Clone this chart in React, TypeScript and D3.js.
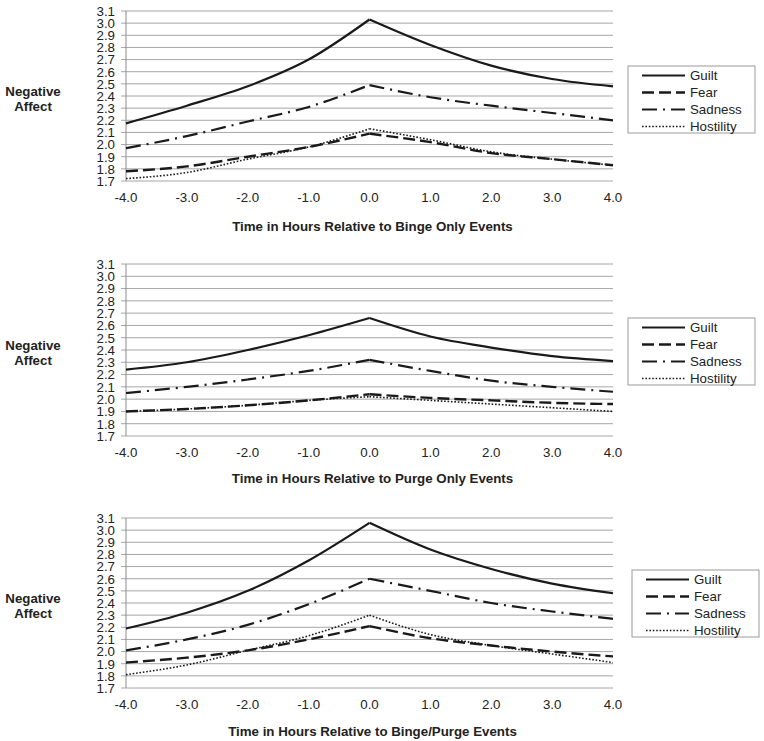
import React from "react";
import * as d3 from "d3";

const hours = [-4, -3, -2, -1, 0, 1, 2, 3, 4];
const yTicks = [1.7, 1.8, 1.9, 2.0, 2.1, 2.2, 2.3, 2.4, 2.5, 2.6, 2.7, 2.8, 2.9, 3.0, 3.1];
const seriesNames = ["Guilt", "Fear", "Sadness", "Hostility"];
const panelTitles = [
  "Time in Hours Relative to Binge Only Events",
  "Time in Hours Relative to Purge Only Events",
  "Time in Hours Relative to Binge/Purge Events",
];

// Binge only
const guilt1 = [2.175, 2.32, 2.48, 2.7, 3.03, 2.82, 2.65, 2.54, 2.48];
const fear1 = [1.78, 1.82, 1.9, 1.98, 2.09, 2.02, 1.93, 1.88, 1.83];
const sadness1 = [1.97, 2.07, 2.19, 2.31, 2.49, 2.39, 2.32, 2.26, 2.2];
const hostility1 = [1.72, 1.77, 1.88, 1.98, 2.13, 2.04, 1.94, 1.88, 1.83];
// Purge only
const guilt2 = [2.24, 2.3, 2.4, 2.52, 2.66, 2.51, 2.42, 2.35, 2.31];
const fear2 = [1.9, 1.92, 1.95, 1.99, 2.04, 2.01, 1.99, 1.97, 1.96];
const sadness2 = [2.05, 2.1, 2.16, 2.23, 2.32, 2.23, 2.15, 2.1, 2.06];
const hostility2 = [1.9, 1.92, 1.95, 1.99, 2.02, 1.99, 1.96, 1.93, 1.9];
// Binge/purge
const guilt3 = [2.19, 2.32, 2.5, 2.75, 3.06, 2.84, 2.68, 2.56, 2.48];
const fear3 = [1.91, 1.95, 2.01, 2.1, 2.21, 2.11, 2.05, 2.0, 1.96];
const sadness3 = [2.01, 2.1, 2.22, 2.39, 2.6, 2.5, 2.4, 2.33, 2.27];
const hostility3 = [1.81, 1.89, 2.01, 2.13, 2.3, 2.14, 2.05, 1.98, 1.91];

const panelSeries = [
  [guilt1, fear1, sadness1, hostility1],
  [guilt2, fear2, sadness2, hostility2],
  [guilt3, fear3, sadness3, hostility3],
];

// layout
const W = 764;
const H = 741;
const FONT = "'Liberation Sans', Arial, sans-serif";
const FS = 13.3;
const plotTops = [11, 264, 518];
const plotBottoms = [181, 436, 688];
const titleBaselines = [231, 483, 736];
const legendTops = [66, 318, 570];
const legendLefts = [628, 628, 632];
const X0 = 126;
const X1 = 613;

const lineStyles = [
  { dash: "", width: 2.2 },
  { dash: "12,5", width: 2.4 },
  { dash: "15,6,2,6", width: 2.2 },
  { dash: "1.6,1.8", width: 1.6 },
];

function Panel({ idx }: { idx: number }) {
  const top = plotTops[idx];
  const bottom = plotBottoms[idx];
  const x = d3.scaleLinear().domain([-4, 4]).range([X0, X1]);
  const y = d3.scaleLinear().domain([1.7, 3.1]).range([bottom, top]);
  const line = d3
    .line<[number, number]>()
    .x((d) => x(d[0]))
    .y((d) => y(d[1]))
    .curve(d3.curveMonotoneX);
  const series = panelSeries[idx];
  const lx = legendLefts[idx];
  const ly = legendTops[idx];
  return (
    <g>
      {yTicks.map((t) => (
        <g key={t}>
          <line x1={X0 - 5} x2={X1} y1={y(t)} y2={y(t)} stroke="#a6a6a6" strokeWidth={1} />
          <text
            x={X0 - 11}
            y={y(t)}
            dy="0.36em"
            textAnchor="end"
            fontSize={FS}
            fontFamily={FONT}
            fill="#222"
          >
            {t.toFixed(1)}
          </text>
        </g>
      ))}
      <line x1={X0} x2={X0} y1={top} y2={bottom} stroke="#8c8c8c" strokeWidth={1} />
      {hours.map((h) => (
        <text
          key={h}
          x={x(h)}
          y={bottom + 20.5}
          textAnchor="middle"
          fontSize={FS}
          fontFamily={FONT}
          fill="#222"
        >
          {h.toFixed(1)}
        </text>
      ))}
      <text
        x={(X0 + X1) / 2 + 3}
        y={titleBaselines[idx]}
        textAnchor="middle"
        fontSize={FS}
        fontWeight="bold"
        fontFamily={FONT}
        fill="#222"
      >
        {panelTitles[idx]}
      </text>
      <text x={33} y={y(2.3) - 12.5} textAnchor="middle" fontSize={FS} fontWeight="bold" fontFamily={FONT} fill="#222">
        Negative
      </text>
      <text x={33} y={y(2.3) + 3} textAnchor="middle" fontSize={FS} fontWeight="bold" fontFamily={FONT} fill="#222">
        Affect
      </text>
      {series.map((vals, si) => {
        const pts: [number, number][] = hours.map((h, i) => [h, vals[i]]);
        const left = pts.slice(0, 5);
        const right = pts.slice(4);
        const st = lineStyles[si];
        return (
          <g key={si}>
            {[left, right].map((seg, k) => (
              <path
                key={k}
                d={line(seg) || ""}
                fill="none"
                stroke="#1a1a1a"
                strokeWidth={st.width}
                strokeDasharray={st.dash || undefined}
              />
            ))}
          </g>
        );
      })}
      <rect x={lx} y={ly} width={127} height={67} fill="#fff" stroke="#9a9a9a" strokeWidth={1} />
      {seriesNames.map((n, si) => {
        const cy = ly + 9.5 + 17 * si;
        const st = lineStyles[si];
        return (
          <g key={n}>
            <line
              x1={lx + 14}
              x2={lx + 57}
              y1={cy}
              y2={cy}
              stroke="#1a1a1a"
              strokeWidth={st.width}
              strokeDasharray={st.dash || undefined}
            />
            <text x={lx + 62} y={cy} dy="0.36em" fontSize={FS} fontFamily={FONT} fill="#222">
              {n}
            </text>
          </g>
        );
      })}
    </g>
  );
}

export default function App() {
  return (
    <svg
      width={W}
      height={H}
      viewBox={`0 0 ${W} ${H}`}
      style={{ position: "absolute", left: 0, top: 0, background: "#fff" }}
    >
      <rect x={0} y={0} width={W} height={H} fill="#fff" />
      {[0, 1, 2].map((i) => (
        <Panel key={i} idx={i} />
      ))}
    </svg>
  );
}
